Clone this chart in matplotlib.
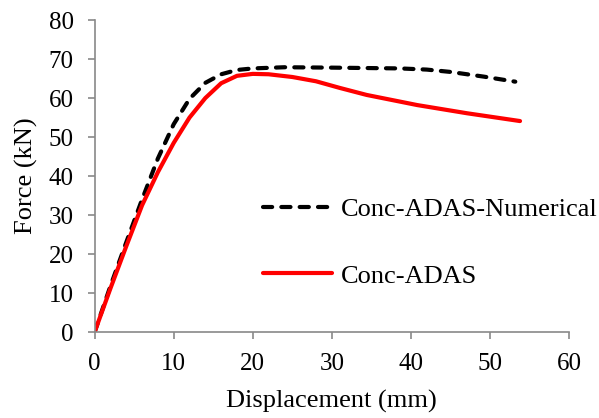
import matplotlib.pyplot as plt

plt.rcParams['font.family'] = ['Liberation Serif', 'DejaVu Serif']

# Numerical model curve
num_disp = [0, 2, 4, 6, 8, 10, 12, 14, 16, 18, 20, 24, 30, 38.6, 42, 45, 49.2, 53.2]
num_force = [0, 11.8, 23.0, 34.0, 44.5, 53.3, 59.8, 63.9, 66.1, 67.2, 67.6, 67.9,
             67.8, 67.6, 67.3, 66.7, 65.5, 64.2]

# Test curve
exp_disp = [0, 2, 4, 6, 8, 10, 12, 14, 16, 18, 20, 22, 25, 28, 31, 34.4, 40.8, 47.1, 53.8]
exp_force = [0, 11.2, 22.0, 32.5, 41.0, 48.5, 55.0, 60.0, 63.8, 65.7, 66.2, 66.1, 65.4,
             64.3, 62.6, 60.8, 58.2, 56.1, 54.1]

fig = plt.figure(figsize=(5.99, 4.18), dpi=100)
ax = fig.add_axes([0.158, 0.2057, 0.792, 0.7463])

ax.plot(num_disp, num_force, color='black', lw=3, linestyle=(0, (2.2, 2.2)),
        dash_capstyle='round', label='Conc-ADAS-Numerical')
ax.plot(exp_disp, exp_force, color='#ff0000', lw=3, solid_capstyle='round',
        solid_joinstyle='round', label='Conc-ADAS')

ax.set_xlim(0, 60)
ax.set_ylim(0, 80)
ax.set_xticks(range(0, 61, 10))
ax.set_yticks(range(0, 81, 10))
ax.set_xlabel('Displacement (mm)', fontsize=19, labelpad=11)
ax.set_ylabel('Force (kN)', fontsize=19, labelpad=8)

for s in ['top', 'right']:
    ax.spines[s].set_visible(False)
for s in ['left', 'bottom']:
    ax.spines[s].set_color('#898989')
    ax.spines[s].set_linewidth(1.2)
ax.tick_params(length=5, width=1.2, color='#898989', labelsize=18, pad=10)

ax.legend(loc='upper left', bbox_to_anchor=(263 / 599, 1 - 198 / 418),
          bbox_transform=fig.transFigure, frameon=False, fontsize=19,
          handlelength=2.6, handletextpad=0.35, labelspacing=1.62,
          borderpad=0, borderaxespad=0)

fig.savefig('out.png', dpi=100)
